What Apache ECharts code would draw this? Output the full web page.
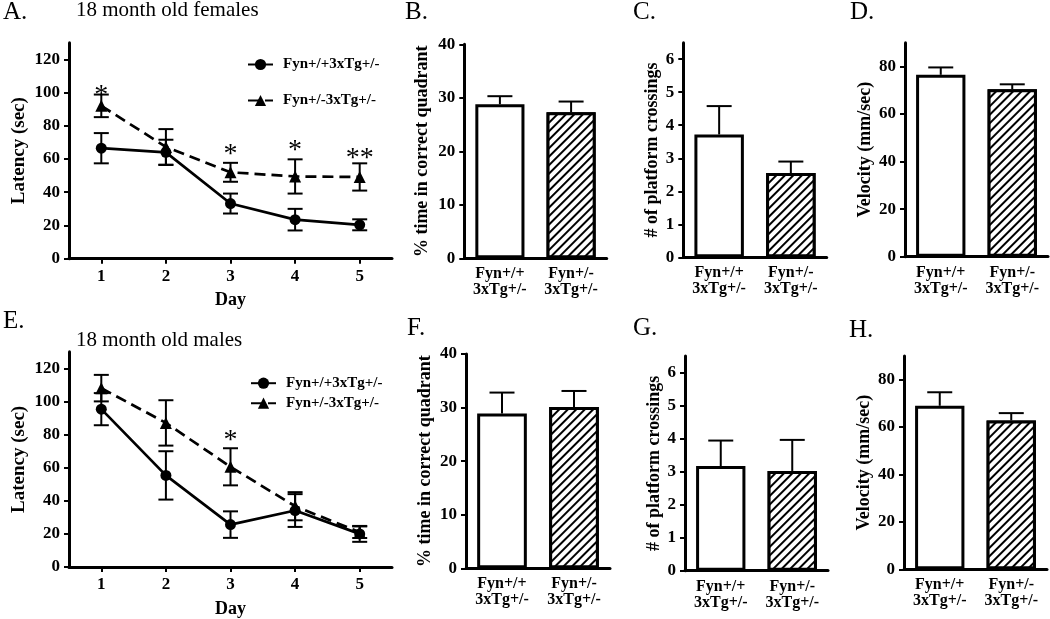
<!DOCTYPE html>
<html>
<head>
<meta charset="utf-8">
<script src="https://cdn.jsdelivr.net/npm/echarts@6/dist/echarts.min.js"></script>
<style>html,body{margin:0;padding:0;background:#fff}#c{width:1050px;height:619px}</style>
</head>
<body>
<div id="c"></div>
<script>
// ---------- data ----------
const days = [1, 2, 3, 4, 5];
const dayTicks = [1, 2, 3, 4, 5];
const latencyTicks = [0, 20, 40, 60, 80, 100, 120];
const quadTicks = [0, 10, 20, 30, 40];
const crossTicks = [0, 1, 2, 3, 4, 5, 6];
const velTicks = [0, 20, 40, 60, 80];
const groupNames = ['Fyn+/+3xTg+/-', 'Fyn+/-3xTg+/-'];
const barCategories = ['Fyn+/+\n3xTg+/-', 'Fyn+/-\n3xTg+/-'];

// A. females latency
const femWT = [66.5, 64, 33.2, 23.5, 20.4];
const femWTErr = [9.1, 7.6, 6.0, 6.5, 3.3];
const femHet = [92, 67.3, 52, 49.5, 49.2];
const femHetErr = [6.8, 10.7, 5.7, 10.3, 8.2];
const femStars = [[1, 102, '*'], [3, 66, '*'], [4, 68.5, '*'], [5, 64, '**']];
// E. males latency
const maleWT = [95.3, 55.3, 25.6, 34.1, 20];
const maleWTErr = [9.7, 14.6, 8.0, 9.9, 4.8];
const maleHet = [108, 87, 60.5, 36.7, 21];
const maleHetErr = [8, 13.7, 11.2, 8.5, 3.5];
const maleStars = [[3, 80, '*']];
// B / F  % time in correct quadrant
const quadFem = [28.8, 27.3];
const quadFemErr = [1.5, 2.0];
const quadMale = [28.9, 30.1];
const quadMaleErr = [3.9, 3.0];
// C / G  # of platform crossings
const crossFem = [3.72, 2.55];
const crossFemErr = [0.86, 0.35];
const crossMale = [3.17, 3.02];
const crossMaleErr = [0.77, 0.94];
// D / H  velocity
const velFem = [76.5, 70.4];
const velFemErr = [3.1, 2.1];
const velMale = [69.0, 62.8];
const velMaleErr = [5.7, 3.1];

// ---------- helpers ----------
const FONT = 'Liberation Serif';
const BLACK = '#000';

function lineErrRender(capHalf) {
  return function (params, api) {
    const x = api.value(0), m = api.value(1), e = api.value(2);
    const t = api.coord([x, m + e]);
    const b = api.coord([x, m - e]);
    const st = { stroke: BLACK, lineWidth: 2 };
    return {
      type: 'group', children: [
        { type: 'line', shape: { x1: t[0], y1: t[1], x2: b[0], y2: b[1] }, style: st },
        { type: 'line', shape: { x1: t[0] - capHalf, y1: t[1], x2: t[0] + capHalf, y2: t[1] }, style: st },
        { type: 'line', shape: { x1: b[0] - capHalf, y1: b[1], x2: b[0] + capHalf, y2: b[1] }, style: st }
      ]
    };
  };
}
function barErrRender(capHalf) {
  return function (params, api) {
    const x = api.value(0), m = api.value(1), e = api.value(2);
    const base = api.coord([x, m]);
    const t = api.coord([x, m + e]);
    const st = { stroke: BLACK, lineWidth: 2 };
    return {
      type: 'group', children: [
        { type: 'line', shape: { x1: t[0], y1: t[1], x2: base[0], y2: base[1] }, style: st },
        { type: 'line', shape: { x1: t[0] - capHalf, y1: t[1], x2: t[0] + capHalf, y2: t[1] }, style: st }
      ]
    };
  };
}
function starRender(stars) {
  return function (params, api) {
    const p = api.coord([api.value(0), api.value(1)]);
    return {
      type: 'text',
      style: {
        text: stars[params.dataIndex][2], x: p[0], y: p[1] + 6,
        font: '28px "' + FONT + '"', fill: BLACK, align: 'center', verticalAlign: 'middle'
      }
    };
  };
}

const grids = [
  { left: 69, top: 42.7, width: 323, height: 216 },      // 0 A
  { left: 69, top: 351.7, width: 323, height: 215.6 },   // 1 E
  { left: 464.3, top: 44.3, width: 142.4, height: 214 }, // 2 B
  { left: 683.3, top: 42.7, width: 143.4, height: 214.6 },// 3 C
  { left: 905, top: 42.7, width: 143, height: 214 },     // 4 D
  { left: 466, top: 354, width: 144, height: 214.3 },    // 5 F
  { left: 685, top: 356, width: 143, height: 214.7 },    // 6 G
  { left: 904, top: 356, width: 143, height: 213.3 }     // 7 H
];

const axisLine = { show: true, onZero: false, lineStyle: { color: BLACK, width: 3 } };
const tickStyle = { color: BLACK, width: 2 };
const labelStyle = { color: BLACK, fontFamily: FONT, fontWeight: 'bold', fontSize: 17 };
const nameStyle = { color: BLACK, fontFamily: FONT, fontWeight: 'bold', fontSize: 18 };

const xAxes = [], yAxes = [];
// line chart axes
[0, 1].forEach(g => {
  xAxes.push({
    gridIndex: g, type: 'value', min: 0.5, max: 5.5,
    name: 'Day', nameLocation: 'middle', nameGap: 33, nameTextStyle: nameStyle,
    axisLine: axisLine, splitLine: { show: false },
    axisTick: { show: true, length: 5, lineStyle: tickStyle, customValues: dayTicks },
    axisLabel: Object.assign({ margin: 9, customValues: dayTicks }, labelStyle)
  });
  yAxes.push({
    gridIndex: g, type: 'value', min: 0, max: 130,
    name: 'Latency (sec)', nameLocation: 'middle', nameRotate: 90, nameGap: 40, nameTextStyle: Object.assign({}, nameStyle, { fontSize: 19 }),
    axisLine: axisLine, splitLine: { show: false },
    axisTick: { show: true, length: 5, lineStyle: tickStyle, customValues: latencyTicks },
    axisLabel: Object.assign({ margin: 9, customValues: latencyTicks }, labelStyle)
  });
});
// bar chart axes
const barAxisDefs = [
  { g: 2, name: '% time in correct quadrant', max: 40, ticks: quadTicks, gap: 33 },
  { g: 3, name: '# of platform crossings', max: 6.5, ticks: crossTicks, gap: 22 },
  { g: 4, name: 'Velocity (mm/sec)', max: 90, ticks: velTicks, gap: 31 },
  { g: 5, name: '% time in correct quadrant', max: 40, ticks: quadTicks, gap: 32 },
  { g: 6, name: '# of platform crossings', max: 6.5, ticks: crossTicks, gap: 22 },
  { g: 7, name: 'Velocity (mm/sec)', max: 90, ticks: velTicks, gap: 31 }
];
barAxisDefs.forEach(d => {
  xAxes.push({
    gridIndex: d.g, type: 'category', data: barCategories, boundaryGap: true,
    axisLine: axisLine, axisTick: { show: false },
    axisLabel: { margin: 8, lineHeight: 16, fontSize: 16, color: BLACK, fontFamily: FONT, fontWeight: 'bold' }
  });
  yAxes.push({
    gridIndex: d.g, type: 'value', min: 0, max: d.max,
    name: d.name, nameLocation: 'middle', nameRotate: 90, nameGap: d.gap, nameTextStyle: nameStyle,
    axisLine: axisLine, splitLine: { show: false },
    axisTick: { show: true, length: 5, lineStyle: tickStyle, customValues: d.ticks },
    axisLabel: Object.assign({ margin: 9, customValues: d.ticks }, labelStyle)
  });
});

const series = [];
function addLine(axisIdx, wt, wtErr, het, hetErr, stars) {
  series.push({
    type: 'custom', name: 'errWT' + axisIdx, xAxisIndex: axisIdx, yAxisIndex: axisIdx,
    renderItem: lineErrRender(7.5), data: days.map((d, i) => [d, wt[i], wtErr[i]]), z: 3
  });
  series.push({
    type: 'custom', name: 'errHet' + axisIdx, xAxisIndex: axisIdx, yAxisIndex: axisIdx,
    renderItem: lineErrRender(7.5), data: days.map((d, i) => [d, het[i], hetErr[i]]), z: 3
  });
  series.push({
    type: 'line', name: groupNames[0], xAxisIndex: axisIdx, yAxisIndex: axisIdx,
    data: days.map((d, i) => [d, wt[i]]), symbol: 'circle', symbolSize: 11,
    lineStyle: { color: BLACK, width: 2.7 }, itemStyle: { color: BLACK }, z: 4
  });
  series.push({
    type: 'line', name: groupNames[1], xAxisIndex: axisIdx, yAxisIndex: axisIdx,
    data: days.map((d, i) => [d, het[i]]), symbol: 'triangle', symbolSize: 12,
    lineStyle: { color: BLACK, width: 2.7, type: [11, 6] }, itemStyle: { color: BLACK }, z: 4
  });
  series.push({
    type: 'custom', name: 'stars' + axisIdx, xAxisIndex: axisIdx, yAxisIndex: axisIdx,
    renderItem: starRender(stars), data: stars.map(s => [s[0], s[1]]), z: 5
  });
}
addLine(0, femWT, femWTErr, femHet, femHetErr, femStars);
addLine(1, maleWT, maleWTErr, maleHet, maleHetErr, maleStars);

const hatch = {
  symbol: 'rect', symbolSize: 1, color: BLACK, backgroundColor: '#fff',
  dashArrayX: [1, 0], dashArrayY: [1.5, 4], rotation: -Math.PI / 4
};
function addBar(axisIdx, vals, errs) {
  series.push({
    type: 'bar', name: 'bar' + axisIdx, xAxisIndex: axisIdx, yAxisIndex: axisIdx, barWidth: '69%',
    data: [
      { value: vals[0], itemStyle: { color: '#fff', borderColor: BLACK, borderWidth: 3 } },
      { value: vals[1], itemStyle: { color: '#fff', borderColor: BLACK, borderWidth: 3, decal: hatch } }
    ]
  });
  series.push({
    type: 'custom', name: 'barErr' + axisIdx, xAxisIndex: axisIdx, yAxisIndex: axisIdx,
    renderItem: barErrRender(12.5), data: vals.map((v, i) => [i, v, errs[i]]), z: 1
  });
}
addBar(2, quadFem, quadFemErr);
addBar(3, crossFem, crossFemErr);
addBar(4, velFem, velFemErr);
addBar(5, quadMale, quadMaleErr);
addBar(6, crossMale, crossMaleErr);
addBar(7, velMale, velMaleErr);

const letterStyle = { color: BLACK, fontFamily: FONT, fontWeight: 'normal', fontSize: 25 };
const subStyle = { color: BLACK, fontFamily: FONT, fontWeight: 'normal', fontSize: 21 };
const titles = [
  { text: 'A.', left: 3, top: 0, textStyle: letterStyle },
  { text: '18 month old females', left: 76, top: 0, textStyle: subStyle },
  { text: 'B.', left: 405, top: 0, textStyle: letterStyle },
  { text: 'C.', left: 633, top: 0, textStyle: letterStyle },
  { text: 'D.', left: 850, top: 0, textStyle: letterStyle },
  { text: 'E.', left: 3, top: 309, textStyle: letterStyle },
  { text: '18 month old males', left: 76, top: 330, textStyle: subStyle },
  { text: 'F.', left: 407, top: 316, textStyle: letterStyle },
  { text: 'G.', left: 633, top: 316, textStyle: letterStyle },
  { text: 'H.', left: 849, top: 318, textStyle: letterStyle }
].map(t => Object.assign({ padding: 0 }, t));

const legendText = { color: BLACK, fontFamily: FONT, fontWeight: 'bold', fontSize: 15, padding: [0, 0, 0, 5] };
const option = {
  animation: false,
  backgroundColor: '#fff',
  title: titles,
  grid: grids,
  xAxis: xAxes,
  yAxis: yAxes,
  legend: [
    { data: groupNames, orient: 'vertical', left: 247, top: 57, itemWidth: 25, itemHeight: 14, itemGap: 21, padding: 0, textStyle: legendText, selectedMode: false },
    { data: groupNames, orient: 'vertical', left: 250, top: 375.7, itemWidth: 25, itemHeight: 14, itemGap: 5, padding: 0, textStyle: legendText, selectedMode: false }
  ],
  series: series
};
const chart = echarts.init(document.getElementById('c'), null, { renderer: 'canvas', width: 1050, height: 619 });
chart.setOption(option);
</script>
</body>
</html>
